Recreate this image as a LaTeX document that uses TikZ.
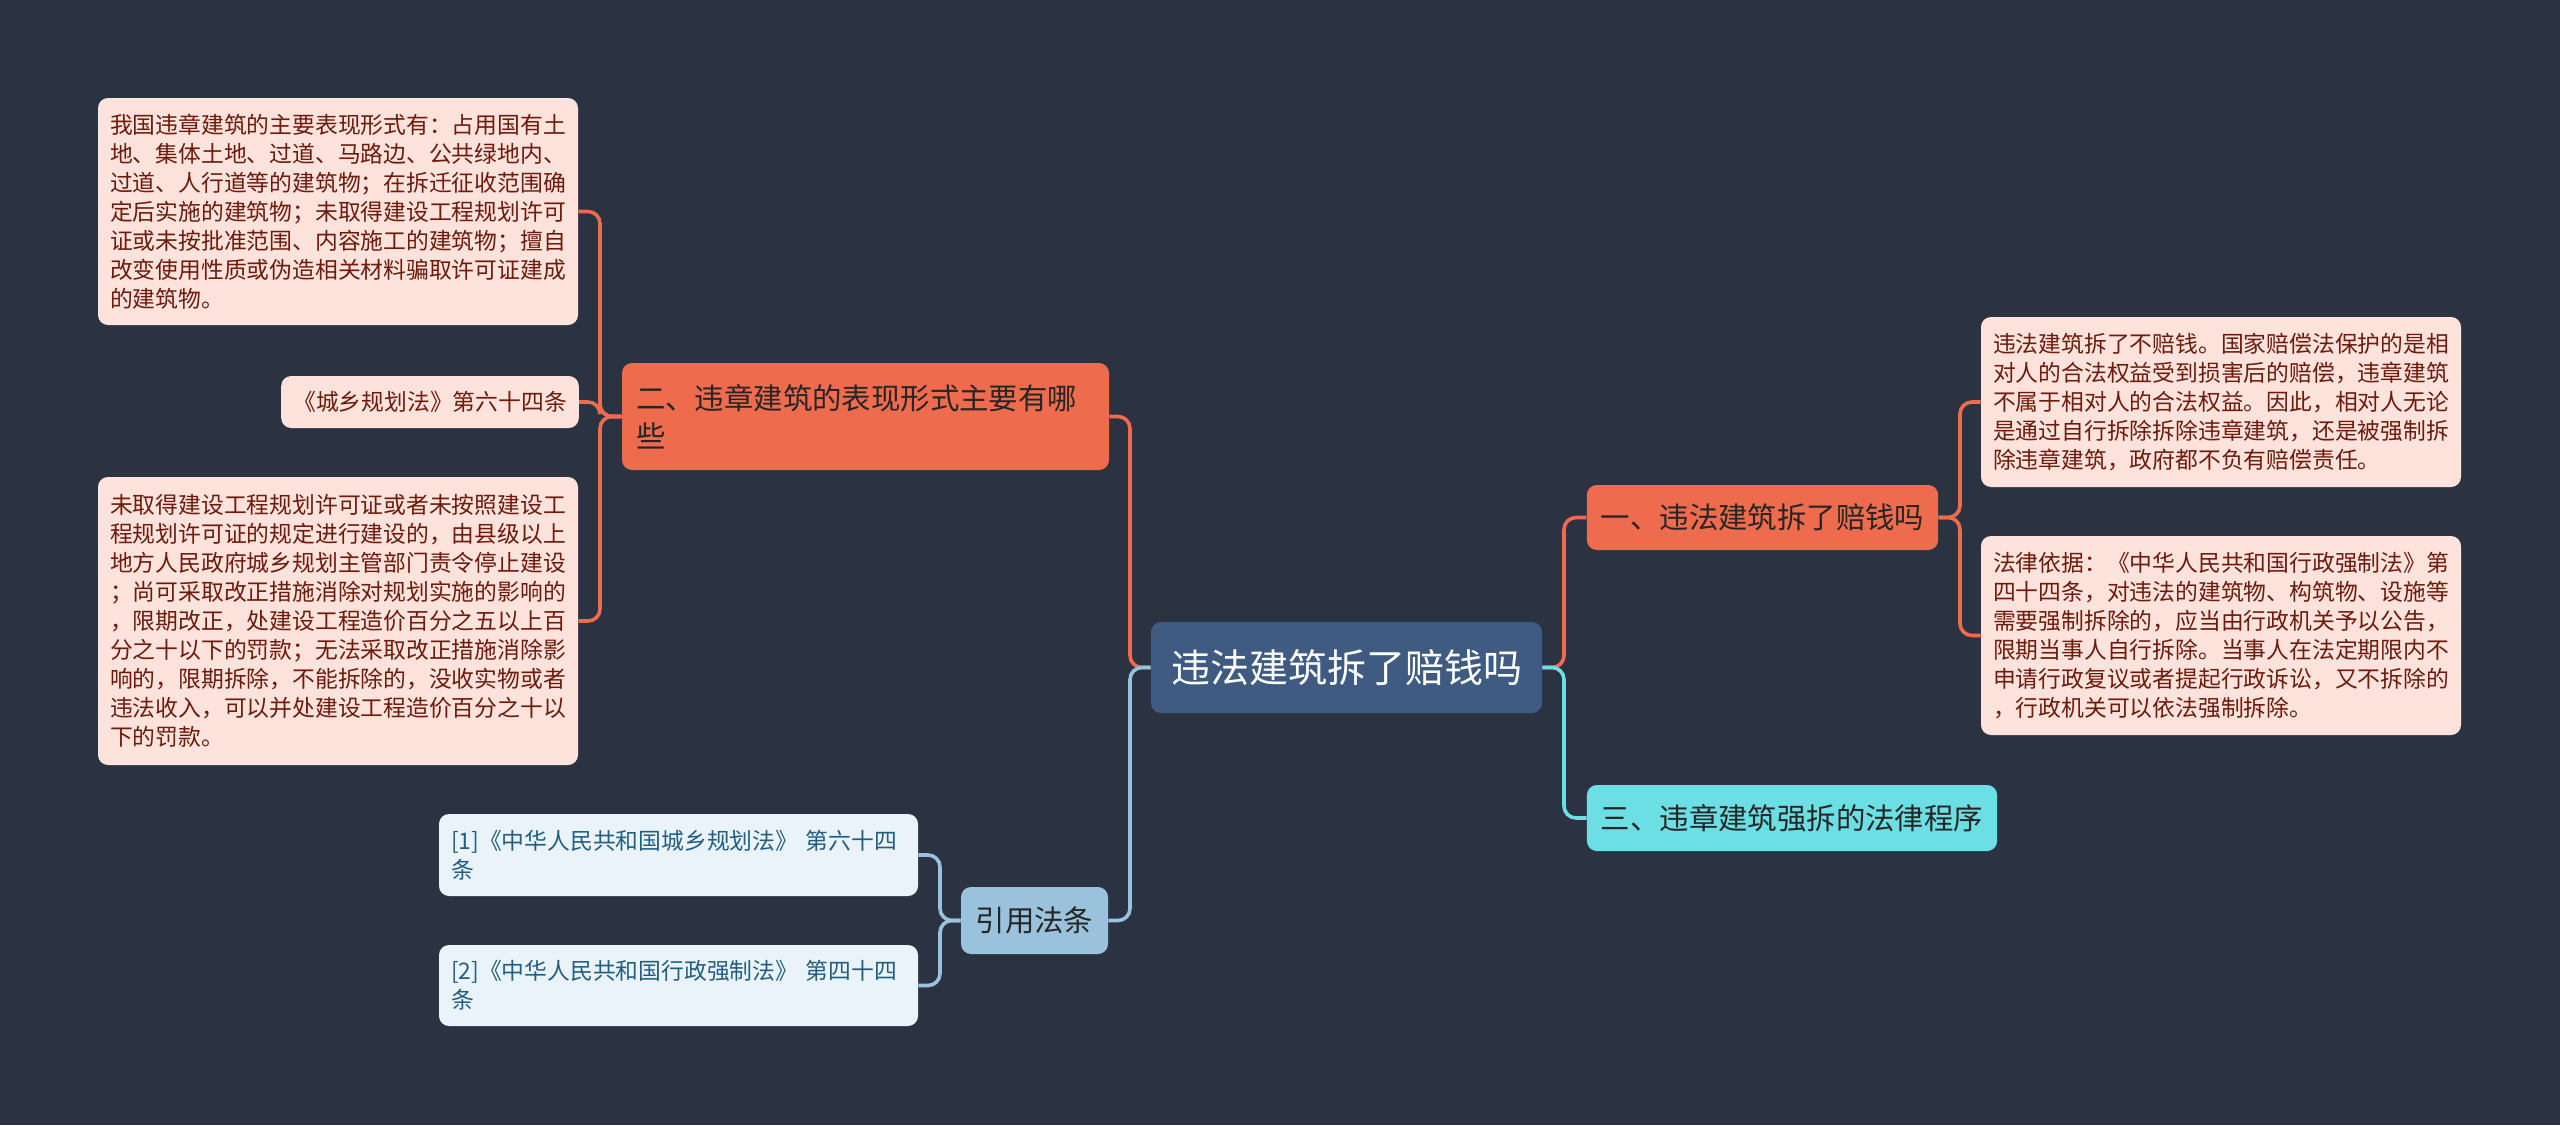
\documentclass[tikz,border=0pt]{standalone}
\usepackage{fontspec}
\newfontfamily\cjk{Noto Sans CJK SC}
\definecolor{bgc}{HTML}{2B3242}
\definecolor{centralc}{HTML}{3F5B82}
\definecolor{orangec}{HTML}{EE6B4D}
\definecolor{pinkc}{HTML}{FDE3DC}
\definecolor{pinktext}{HTML}{6E1A0C}
\definecolor{cyanc}{HTML}{6BDFE4}
\definecolor{steelc}{HTML}{9AC2DC}
\definecolor{lightbluec}{HTML}{EAF3F9}
\definecolor{bluetext}{HTML}{215E82}
\begin{document}
\begin{tikzpicture}[x=0.5pt,y=-0.5pt,
  conn/.style={line width=1.8pt, rounded corners=6pt},
  basebox/.style={rounded corners=5pt, inner ysep=0pt, font=\cjk},
  centralbox/.style={basebox, fill=centralc, text=white, font=\cjk\fontsize{19.5}{24}\selectfont, align=center, inner xsep=0pt},
  mainbox/.style={basebox, text=black!85, font=\cjk\fontsize{14.7}{19}\selectfont, inner xsep=7pt},
  pinkbox/.style={basebox, fill=pinkc, text=pinktext, font=\cjk\fontsize{11.4}{14.5}\selectfont, inner xsep=6pt},
  bluebox/.style={basebox, fill=lightbluec, text=bluetext, font=\cjk\fontsize{11.4}{14.3}\selectfont, inner xsep=6pt}
]
\fill[bgc] (0,0) rectangle (2560,1125);
\useasboundingbox (0,0) rectangle (2560,1125);

% stems
\coordinate (stemL) at (1130,0);
\coordinate (stemR) at (1564,0);
\coordinate (stemA) at (1960,0);
\coordinate (stemC) at (600,0);
\coordinate (stemRef) at (940,0);

% central
\node[centralbox, minimum width=195.5pt, minimum height=45.5pt] (central) at (1346.5,667.5) {违法建筑拆了赔钱吗};

% main branches
\node[mainbox, fill=orangec, minimum width=175.5pt, minimum height=32.5pt, align=center] (b1) at (1762.5,517.5) {一、违法建筑拆了赔钱吗};
\node[mainbox, fill=cyanc, minimum width=205pt, minimum height=33pt, align=center] (b3) at (1792,818) {三、违章建筑强拆的法律程序};
\node[mainbox, fill=orangec, text width=229.5pt, minimum height=53.5pt, align=left] (b2) at (865.5,416.5) {二、违章建筑的表现形式主要有哪\\些};
\node[mainbox, fill=steelc, minimum width=73.5pt, minimum height=33.5pt, align=center, inner xsep=0pt] (bR) at (1034.5,920.5) {引用法条};

% right leaves
\node[pinkbox, text width=228pt, minimum height=85pt, align=left] (A) at (2221,402) {违法建筑拆了不赔钱。国家赔偿法保护的是相\\对人的合法权益受到损害后的赔偿，违章建筑\\不属于相对人的合法权益。因此，相对人无论\\是通过自行拆除拆除违章建筑，还是被强制拆\\除违章建筑，政府都不负有赔偿责任。};
\node[pinkbox, text width=228pt, minimum height=99.5pt, align=left] (B) at (2221,635.5) {法律依据：《中华人民共和国行政强制法》第\\四十四条，对违法的建筑物、构筑物、设施等\\需要强制拆除的，应当由行政机关予以公告，\\限期当事人自行拆除。当事人在法定期限内不\\申请行政复议或者提起行政诉讼，又不拆除的\\，行政机关可以依法强制拆除。};

% left leaves
\node[pinkbox, text width=228pt, minimum height=113.5pt, align=left] (C1) at (338,211.5) {我国违章建筑的主要表现形式有：占用国有土\\地、集体土地、过道、马路边、公共绿地内、\\过道、人行道等的建筑物；在拆迁征收范围确\\定后实施的建筑物；未取得建设工程规划许可\\证或未按批准范围、内容施工的建筑物；擅自\\改变使用性质或伪造相关材料骗取许可证建成\\的建筑物。};
\node[pinkbox, minimum width=148pt, minimum height=26pt, align=center] (C2) at (430,402) {《城乡规划法》第六十四条};
\node[pinkbox, text width=228pt, minimum height=144pt, align=left] (C3) at (338,621) {未取得建设工程规划许可证或者未按照建设工\\程规划许可证的规定进行建设的，由县级以上\\地方人民政府城乡规划主管部门责令停止建设\\；尚可采取改正措施消除对规划实施的影响的\\，限期改正，处建设工程造价百分之五以上百\\分之十以下的罚款；无法采取改正措施消除影\\响的，限期拆除，不能拆除的，没收实物或者\\违法收入，可以并处建设工程造价百分之十以\\下的罚款。};

% reference leaves
\node[bluebox, text width=227.5pt, minimum height=41pt, align=left] (R1) at (678.5,855) {[1]《中华人民共和国城乡规划法》 第六十四\\条};
\node[bluebox, text width=227.5pt, minimum height=40.5pt, align=left] (R2) at (678.5,985.5) {[2]《中华人民共和国行政强制法》 第四十四\\条};

% connectors central
\draw[conn, orangec] (central.west) -- (stemL |- central.west) |- (b2.east);
\draw[conn, steelc] (central.west) -- (stemL |- central.west) |- (bR.east);
\draw[conn, orangec] (central.east) -- (stemR |- central.east) |- (b1.west);
\draw[conn, cyanc] (central.east) -- (stemR |- central.east) |- (b3.west);

% connectors b1
\draw[conn, orangec] (b1.east) -- (stemA |- b1.east) |- (A.west);
\draw[conn, orangec] (b1.east) -- (stemA |- b1.east) |- (B.west);

% connectors b2
\draw[conn, orangec] (b2.west) -- (stemC |- b2.west) |- (C1.east);
\draw[conn, orangec] (b2.west) -- (stemC |- b2.west) |- (C2.east);
\draw[conn, orangec] (b2.west) -- (stemC |- b2.west) |- (C3.east);

% connectors refs
\draw[conn, steelc] (bR.west) -- (stemRef |- bR.west) |- (R1.east);
\draw[conn, steelc] (bR.west) -- (stemRef |- bR.west) |- (R2.east);
\end{tikzpicture}
\end{document}
